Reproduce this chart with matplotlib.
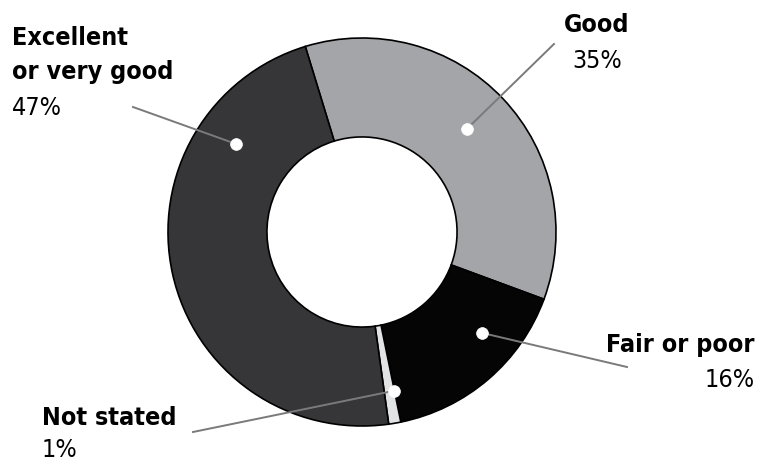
import numpy as np
import matplotlib.pyplot as plt

labels = ["Good", "Fair or poor", "Not stated", "Excellent\nor very good"]
values = [35, 16, 1, 47]
pct_text = ["35%", "16%", "1%", "47%"]
colors = ["#a4a5a8", "#050505", "#e2e3e4", "#363638"]

W, H = 762, 463
cx, cy, R = 362, H - 232, 194

fig = plt.figure(figsize=(W / 100, H / 100), dpi=100)
ax = fig.add_axes([0, 0, 1, 1])

ax.pie(values, colors=colors, startangle=107, counterclock=False,
       center=(cx, cy), radius=R, frame=True,
       wedgeprops=dict(width=R * 0.51, edgecolor="black", linewidth=1.2))
ax.set_xlim(0, W)
ax.set_ylim(0, H)
ax.set_aspect("equal")
ax.axis("off")

# leader lines: (dot angle deg, dot radius fraction, line end in image px)
leaders = [(44.5, 0.76, (554, 44)),
           (-40, 0.81, (627, 367)),
           (-78.6, 0.835, (193, 432)),
           (145, 0.79, (133, 107))]

for ang, rf, (ex, ey) in leaders:
    dx = cx + R * rf * np.cos(np.radians(ang))
    dy = cy + R * rf * np.sin(np.radians(ang))
    ax.plot([dx, ex], [dy, H - ey], color="#7a7a7a", lw=1.4, zorder=5)
    ax.plot(dx, dy, "o", ms=8.5, mfc="white", mec="white", mew=0.5, zorder=6)

bold = dict(family="DejaVu Sans", stretch="condensed", weight="bold", fontsize=18)
reg = dict(family="DejaVu Sans", stretch="condensed", fontsize=18)

# label placement in image px: (x, name baseline, pct baseline, ha)
place = [(597, 32, 68, "center"),
         (755, 352, 387, "right"),
         (42, 425, 457, "left"),
         (12, 45, 115, "left")]

for lab, pct, (x, yb, yp, ha) in zip(labels, pct_text, place):
    lines = lab.split("\n")
    for i, line in enumerate(lines):
        ax.text(x, H - yb - i * 34, line, ha=ha, va="baseline", **bold)
    ax.text(x, H - yp, pct, ha=ha, va="baseline", **reg)

fig.savefig("out.png", dpi=100, facecolor="white")
